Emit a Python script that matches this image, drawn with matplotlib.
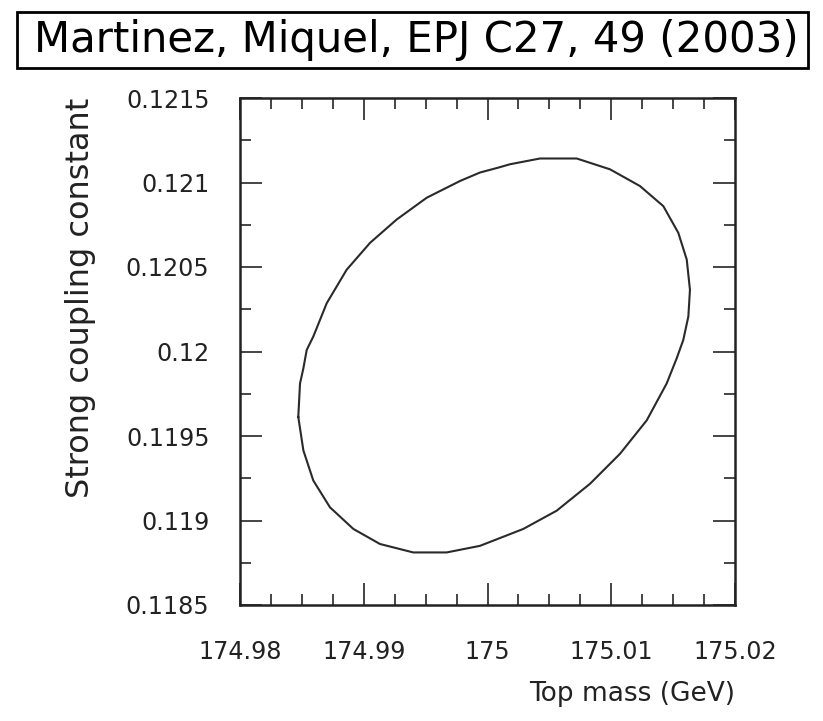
import matplotlib.pyplot as plt
from matplotlib.patches import Rectangle
from matplotlib.ticker import MultipleLocator

# 1-sigma contour, top mass (GeV) vs strong coupling constant
top_mass = [
    174.98471, 174.98485, 174.98512, 174.98539, 174.98592, 174.98701, 174.98862,
    174.99051, 174.99266, 174.99509, 174.99778, 174.99939, 175.00087, 175.00182,
    175.00424, 175.00721, 175.00990, 175.01232, 175.01421, 175.01542, 175.01610,
    175.01636, 175.01623, 175.01582, 175.01529, 175.01448, 175.01287, 175.01071,
    175.00828, 175.00559, 175.00289, 174.99939, 174.99670, 174.99400, 174.99131,
    174.98916, 174.98727, 174.98592, 174.98512, 174.98471,
]
alpha_s = [
    0.119613, 0.119811, 0.119900, 0.120009, 0.120088, 0.120286, 0.120484,
    0.120643, 0.120781, 0.120910, 0.121009, 0.121059, 0.121088, 0.121108,
    0.121142, 0.121142, 0.121078, 0.120979, 0.120860, 0.120702, 0.120544,
    0.120365, 0.120207, 0.120068, 0.119960, 0.119811, 0.119593, 0.119395,
    0.119217, 0.119058, 0.118950, 0.118850, 0.118811, 0.118811, 0.118861,
    0.118950, 0.119078, 0.119237, 0.119415, 0.119613,
]

x_ticks = [174.98, 174.99, 175.00, 175.01, 175.02]
x_labels = ["174.98", "174.99", "175", "175.01", "175.02"]
y_ticks = [0.1185, 0.1190, 0.1195, 0.1200, 0.1205, 0.1210, 0.1215]
y_labels = ["0.1185", "0.119", "0.1195", "0.12", "0.1205", "0.121", "0.1215"]

title = "Martinez, Miquel, EPJ C27, 49 (2003)"

fig = plt.figure(figsize=(8.23, 7.21), dpi=100)
W, H = 823, 721

# title in a framed box across the top
fig.patches.append(Rectangle((17 / W, 1 - 68 / H), 791 / W, 56 / H,
                             transform=fig.transFigure, facecolor="white",
                             edgecolor="black", linewidth=2))
fig.text(416 / W, 1 - 40 / H, title, ha="center", va="center",
         fontsize=30.2, family="DejaVu Sans", color="black")

ax = fig.add_axes([240 / W, 1 - 605 / H, 495 / W, 507 / H])
ax.plot(top_mass, alpha_s, color="#2a2a2a", linewidth=1.5)

ax.set_xlim(174.98, 175.02)
ax.set_ylim(0.1185, 0.1215)
ax.set_xticks(x_ticks)
ax.set_xticklabels(x_labels)
ax.set_yticks(y_ticks)
ax.set_yticklabels(y_labels)
ax.xaxis.set_minor_locator(MultipleLocator(0.0025))
ax.yaxis.set_minor_locator(MultipleLocator(0.00025))

for s in ax.spines.values():
    s.set_color("#222222")
    s.set_linewidth(1.8)

ax.tick_params(which="both", direction="in", top=True, right=True,
               color="#444444", width=1.4)
ax.tick_params(which="major", length=16)
ax.tick_params(which="minor", length=8)
ax.tick_params(axis="x", which="major", pad=25, labelsize=17.2, labelcolor="#222222")
ax.tick_params(axis="y", which="major", pad=22, labelsize=17.2, labelcolor="#222222")

ax.set_xlabel("Top mass (GeV)", fontsize=19, color="#222222", loc="right")
ax.xaxis.set_label_coords(1.0, -0.15)
ax.set_ylabel("Strong coupling constant", fontsize=23, color="#222222", loc="top")
ax.yaxis.set_label_coords(-0.29, 1.0)

fig.savefig("out.png", dpi=100)
